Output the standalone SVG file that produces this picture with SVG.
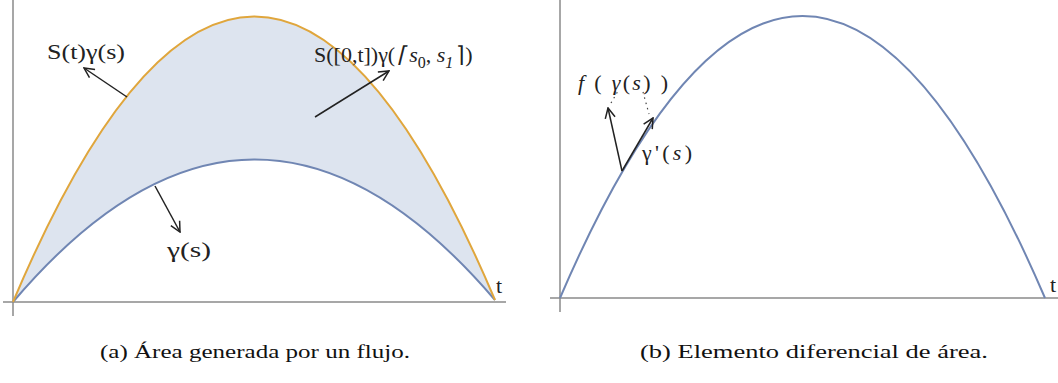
<svg xmlns="http://www.w3.org/2000/svg" width="1058" height="383" viewBox="0 0 1058 383">
<style>
.axis{stroke:#8a8a8a;stroke-width:1.5;fill:none}
.arr{stroke:#222;stroke-width:1.5;fill:none;marker-end:url(#vh)}
.lbl{font-family:'Liberation Serif',serif;font-size:22px;fill:#222}
.it{font-style:italic}
.cap{font-family:'Liberation Serif',serif;font-size:18px;fill:#111}
</style>
<defs>
<marker id="vh" viewBox="0 0 12 12" refX="11" refY="6" markerWidth="12" markerHeight="12" markerUnits="userSpaceOnUse" orient="auto">
<path d="M1,1 L11,6 L1,11" fill="none" stroke="#222" stroke-width="1.5"/>
</marker>
</defs>
<rect width="1058" height="383" fill="#fff"/>
<g id="panel-a">
<path d="M13,302 Q254,-268 495,300 Q254,18 13,302 Z" fill="#dde4ef"/>
<line class="axis" x1="13" y1="0" x2="13" y2="316"/>
<line class="axis" x1="3" y1="302" x2="506" y2="302"/>
<path d="M13,302 Q254,18 495,300" fill="none" stroke="#7086b3" stroke-width="2"/>
<path d="M13,302 Q254,-268 495,300" fill="none" stroke="#e0a63c" stroke-width="2"/>
<text class="lbl" x="496" y="293" font-size="20">t</text>
</g>
<g id="label-St">
<text class="lbl" x="47" y="59" textLength="78" lengthAdjust="spacingAndGlyphs">S(t)γ(s)</text>
</g>
<g id="label-S0t">
<text class="lbl" x="314" y="62">S([0,t])γ(<tspan class="it" dx="2">⌈</tspan><tspan class="it" dx="3">s</tspan><tspan font-size="16" dy="6">0</tspan><tspan dy="-6">, </tspan><tspan class="it">s</tspan><tspan class="it" font-size="16" dy="6">1</tspan><tspan dy="-6" dx="3">⌉)</tspan></text>
</g>
<g id="label-gs">
<text class="lbl" x="167" y="257" textLength="44" lengthAdjust="spacingAndGlyphs">γ(s)</text>
</g>
<g id="panel-b">
<line class="axis" x1="560" y1="0" x2="560" y2="312"/>
<line class="axis" x1="550" y1="298" x2="1058" y2="298"/>
<path d="M560,298 Q802.5,-266 1045,298" fill="none" stroke="#7086b3" stroke-width="2"/>
<text class="lbl" x="1050" y="292" font-size="20">t</text>
</g>
<g id="label-f">
<text class="lbl it" x="578" y="90" textLength="90" lengthAdjust="spacing">f<tspan font-style="normal"> ( </tspan>γ<tspan font-style="normal">(</tspan>s<tspan font-style="normal">) )</tspan></text>
</g>
<g id="label-gp">
<text class="lbl" x="642" y="160" textLength="50" lengthAdjust="spacing">γ'(<tspan class="it">s</tspan>)</text>
</g>
<g id="connectors">
<line class="arr" x1="127" y1="97" x2="84" y2="68"/>
<line class="arr" x1="315" y1="117" x2="389" y2="71"/>
<line class="arr" x1="155" y1="186" x2="180" y2="232"/>
<line class="arr" x1="622" y1="171" x2="608" y2="108"/>
<line class="arr" x1="622" y1="171" x2="653" y2="118"/>
<line x1="611" y1="103" x2="618" y2="91" stroke="#444" stroke-width="1.2" stroke-dasharray="1.5,4"/>
<line x1="643" y1="92" x2="649" y2="114" stroke="#444" stroke-width="1.2" stroke-dasharray="1.5,4"/>
</g>
<g id="captions">
<text class="cap" x="100" y="358" textLength="310" lengthAdjust="spacingAndGlyphs">(a) Área generada por un flujo.</text>
<text class="cap" x="640" y="358" textLength="348" lengthAdjust="spacingAndGlyphs">(b) Elemento diferencial de área.</text>
</g>
</svg>
